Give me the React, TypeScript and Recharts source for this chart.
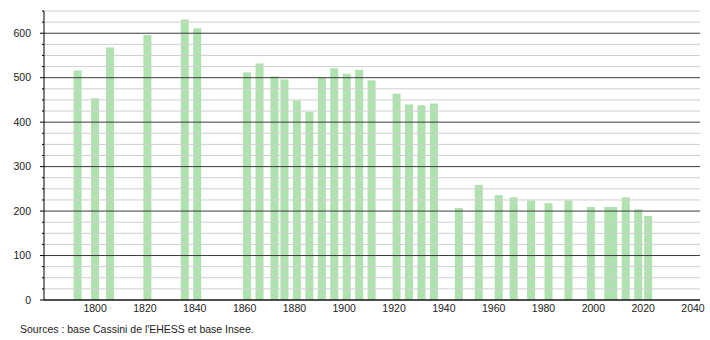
import React from "react";
import { BarChart, Bar, XAxis, YAxis, ReferenceLine } from "recharts";

// recensements (années) et population
const years = [
  1793, 1800, 1806, 1821, 1836, 1841, 1861, 1866, 1872, 1876, 1881, 1886, 1891,
  1896, 1901, 1906, 1911, 1921, 1926, 1931, 1936, 1946, 1954, 1962, 1968, 1975,
  1982, 1990, 1999, 2006, 2008, 2013, 2018, 2022,
];
const population = [
  516, 454, 568, 596, 631, 611, 512, 532, 503, 496, 449, 423, 500,
  521, 509, 518, 494, 464, 440, 438, 442, 207, 259, 236, 231, 224,
  218, 224, 209, 209, 209, 231, 204, 189,
];
const xTicks = [1800, 1820, 1840, 1860, 1880, 1900, 1920, 1940, 1960, 1980, 2000, 2020, 2040];
const majorY = [0, 100, 200, 300, 400, 500, 600];
const minorY = [25, 50, 75, 125, 150, 175, 225, 250, 275, 325, 350, 375, 425, 450, 475, 525, 550, 575, 625, 650];

const data = years.map((year, i) => ({ year, pop: population[i] }));

const FONT = '"Liberation Sans", Arial, sans-serif';
const BAR_W = 8;

const YTick = (props: any) => {
  const { x, y, payload } = props;
  const major = payload.value % 100 === 0;
  return (
    <g>
      <line x1={x - (major ? 4 : 2)} x2={x} y1={y} y2={y} stroke="#000" />
      {major && (
        <text x={x - 13} y={y} dy={3.8} textAnchor="end" fontSize={10.5} fill="#222" fontFamily={FONT}>
          {payload.value}
        </text>
      )}
    </g>
  );
};

// bars drawn at a fixed width, centred on the census year
const BarShape = (props: any) => {
  const { x, y, width, height, fill } = props;
  const cx = x + width / 2;
  return <rect x={cx - BAR_W / 2} y={y} width={BAR_W} height={height} fill={fill} />;
};

export default function App() {
  return (
    <div style={{ position: "absolute", left: 0, top: 0, width: 710, height: 340, background: "#fff" }}>
      <BarChart width={710} height={340} data={data} margin={{ top: 11, right: 10, bottom: 20, left: 0 }}>
        {minorY.map((v) => (
          <ReferenceLine key={"m" + v} y={v} stroke="#cfcfcf" strokeWidth={1} />
        ))}
        {majorY.map((v) => (
          <ReferenceLine key={"M" + v} y={v} stroke="#3a3a3a" strokeWidth={1} />
        ))}
        <XAxis
          dataKey="year"
          type="number"
          domain={[1779.5, 2042.8]}
          ticks={xTicks}
          allowDataOverflow
          tickLine={false}
          tickSize={0}
          tickMargin={5}
          axisLine={{ stroke: "#000" }}
          tick={{ fontSize: 10.5, fill: "#222", fontFamily: FONT }}
          height={20}
        />
        <YAxis
          type="number"
          domain={[0, 650]}
          ticks={[...majorY, ...minorY].sort((a, b) => a - b)}
          interval={0}
          width={44}
          tickSize={0}
          tickMargin={0}
          tickLine={false}
          axisLine={{ stroke: "#000" }}
          tick={<YTick />}
        />
        <Bar dataKey="pop" fill="#b0e2b0" isAnimationActive={false} shape={<BarShape />} />
      </BarChart>
      <div
        style={{
          position: "absolute",
          left: 20,
          top: 323,
          fontSize: 10.5,
          fontFamily: FONT,
          color: "#222",
          whiteSpace: "nowrap",
        }}
      >
        Sources : base Cassini de l'EHESS et base Insee.
      </div>
    </div>
  );
}
